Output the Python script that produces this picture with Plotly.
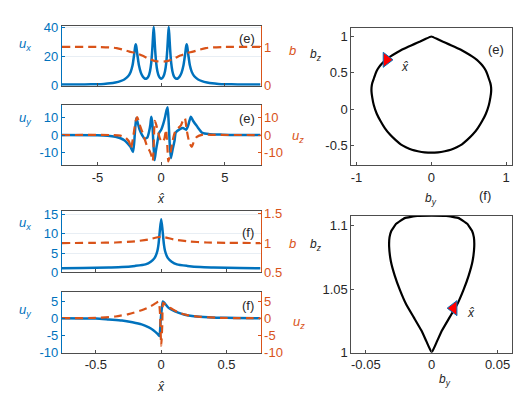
import plotly.graph_objects as go

# ---------------- data ----------------
# panel (e) top: u_x and b versus x-hat
xe_ux = [-7.8,-6,-5,-4.5,-4,-3.6,-3.2,-2.9,-2.6,-2.4,-2.25,-2.13,-2.05,-2.0,-1.95,-1.87,-1.75,-1.6,-1.45,-1.3,
         -1.15,-1.0,-0.88,-0.78,-0.7,-0.64,-0.59,-0.54,-0.48,-0.4,-0.3,-0.18,-0.08,0,
         0.08,0.18,0.3,0.4,0.48,0.54,0.59,0.64,0.7,0.78,0.88,1.0,1.15,1.3,1.45,1.6,1.75,1.87,1.95,2.0,
         2.05,2.13,2.25,2.4,2.6,2.9,3.2,3.6,4,4.5,5,6,7.8]
ux_e = [1.0,1.0,1.1,1.3,1.7,2.3,3.2,4.3,6.5,9.5,14,21,26.5,28.3,26.5,21,14,9,6.3,5,
        5,6.5,10,16,25,34,40,34,25,16,10,6.5,5.2,4.8,
        5.2,6.5,10,16,25,34,40,34,25,16,10,6.5,5,5,6.3,9,14,21,26.5,28.3,
        26.5,21,14,9.5,6.5,4.3,3.2,2.3,1.7,1.3,1.1,1.0,1.0]
xe_b = [-7.8,-5,-4,-3.5,-3,-2.5,-2,-1.5,-1,-0.6,-0.3,0,0.3,0.6,1,1.5,2,2.5,3,3.5,4,5,7.8]
b_e = [1.0,1.0,0.99,0.97,0.93,0.88,0.84,0.78,0.7,0.65,0.63,0.62,0.63,0.65,0.7,0.78,0.84,0.88,0.93,0.97,0.99,1.0,1.0]

# panel (e) second: u_y and u_z
xe_uy = [-7.8,-5,-4.2,-3.6,-3.2,-2.9,-2.64,-2.4,-2.22,-2.12,-2.04,-1.96,-1.85,-1.7,-1.5,-1.31,-1.1,-0.95,-0.85,-0.78,
         -0.7,-0.62,-0.52,-0.42,-0.3,-0.16,0,0.15,0.3,0.42,0.5,0.58,0.66,0.76,0.9,1.05,1.15,1.5,1.7,1.95,
         2.1,2.22,2.33,2.5,2.8,3.24,3.8,4.8,6,7.8]
uy_e = [0,-0.1,-0.4,-1,-1.8,-2.9,-4.7,-6.8,-9.5,-4,4,9.4,7,3,0,-2,-1.5,2,6,10.3,
        7,-4,-14,-9,-4,1.2,3,6,10,14,15.5,8,-4,-13,-8,-3,1.5,3.5,4,3,
        5,8,10.3,8,5,1.2,0.5,0.2,0,0]
xe_uz = [-7.8,-4,-3.2,-2.8,-2.5,-2.38,-2.2,-2.0,-1.88,-1.7,-1.4,-1.1,-0.9,-0.75,-0.66,-0.58,-0.5,-0.4,-0.25,-0.1,
         0.1,0.25,0.38,0.48,0.56,0.66,0.78,0.9,1.1,1.35,1.55,1.7,1.86,2.0,2.2,2.4,2.55,2.8,3.3,4,7.8]
uz_e = [0,0,-0.3,-1.5,-4,-7.6,-1,8,10,6,0,-6.5,-9,-12,-14.5,-3,8,6,2,-2,
        -4,-2,3,-6,-14.8,-12,-8,-3,2,4,5.4,8,9.4,3,-4,-6.7,-4,-1,0.3,0.1,0]

# panel (f) top: u_x and b
xf_ux = [-0.76,-0.6,-0.4,-0.3,-0.2,-0.12,-0.08,-0.05,-0.03,-0.02,-0.01,0,
         0.01,0.02,0.03,0.05,0.08,0.12,0.2,0.3,0.4,0.6,0.76]
ux_f = [1.1,1.15,1.3,1.4,1.7,2.1,2.8,3.8,5.5,7.5,11,13.8,
        11,7.5,5.5,3.8,2.8,2.1,1.7,1.4,1.3,1.15,1.1]
xf_b = [-0.76,-0.5,-0.35,-0.2,-0.1,0,0.1,0.2,0.35,0.5,0.76]
b_f = [1.0,1.005,1.01,1.03,1.06,1.108,1.06,1.03,1.01,1.005,1.0]

# panel (f) second: u_y and u_z
xf_uy = [-0.76,-0.5,-0.4,-0.3,-0.22,-0.15,-0.095,-0.06,-0.03,-0.014,-0.005,0.005,0.013,0.03,0.057,0.083,
         0.13,0.18,0.25,0.36,0.5,0.76]
uy_f = [0,-0.1,-0.4,-0.7,-1.2,-1.8,-2.7,-3.5,-4.5,-5.2,-1,3,4.9,4.2,3.0,2.4,
        1.6,1.0,0.6,0.3,0.1,0]
xf_uz = [-0.76,-0.5,-0.35,-0.25,-0.15,-0.08,-0.04,-0.02,-0.01,0,0.008,0.015,0.03,0.06,0.083,0.13,0.2,0.3,0.45,0.76]
uz_f = [0,0.1,0.5,1.2,2.3,3.5,4.4,4.8,2,-8,-2,4.5,4,3.2,2.7,1.7,0.9,0.4,0.1,0]

# hodographs (b_y, b_z)
by_e = [0,-0.08,-0.15,-0.23,-0.31,-0.39,-0.46,-0.54,-0.61,-0.66,-0.70,-0.73,-0.75,-0.77,-0.79,-0.80,-0.80,-0.79,-0.77,
        -0.73,-0.68,-0.62,-0.55,-0.48,-0.41,-0.34,-0.26,-0.18,-0.09,0,
        0.09,0.18,0.26,0.34,0.41,0.48,0.55,0.62,0.68,0.73,0.77,0.79,0.80,0.80,0.79,0.77,0.75,0.73,0.70,0.66,0.61,
        0.54,0.46,0.39,0.31,0.23,0.15,0.08,0]
bz_e = [1.0,0.965,0.93,0.895,0.86,0.82,0.78,0.73,0.68,0.63,0.58,0.53,0.48,0.42,0.36,0.30,0.24,0.16,0.06,
        -0.06,-0.16,-0.26,-0.35,-0.42,-0.48,-0.52,-0.555,-0.575,-0.59,-0.595,
        -0.59,-0.575,-0.555,-0.52,-0.48,-0.42,-0.35,-0.26,-0.16,-0.06,0.06,0.16,0.24,0.30,0.36,0.42,0.48,0.53,0.58,0.63,0.68,
        0.73,0.78,0.82,0.86,0.895,0.93,0.965,1.0]
marker_e = [-0.6, 0.68]
by_f = [0,0.004,0.0078,0.0135,0.0192,0.024,0.028,0.031,0.0323,0.032,0.0306,0.027,0.0205,0.011,0,
        -0.011,-0.0205,-0.027,-0.0306,-0.032,-0.0323,-0.031,-0.028,-0.024,-0.0192,-0.0135,-0.0078,-0.004,0]
bz_f = [1.0,1.0088,1.0173,1.0275,1.0376,1.049,1.0605,1.072,1.0834,1.091,1.096,1.1015,1.106,1.1078,1.108,
        1.1078,1.106,1.1015,1.096,1.091,1.0834,1.072,1.0605,1.049,1.0376,1.0275,1.0173,1.0088,1.0]
marker_f = [0.0167, 1.035]

# ---------------- styling ----------------
W, H = 525, 394
BLUE = "#0072BD"
ORANGE = "#D95319"
GRAY = "#4d4d4d"
TXT = "#262626"
FONT = "Liberation Sans, Arial, sans-serif"
FS = 13
DASH = "8px,5px"

def px_x(p):
    return p / W

def px_y(p):
    return 1 - p / H

def dom_x(a, b):
    return [px_x(a), px_x(b)]

def dom_y(top, bottom):
    return [px_y(bottom), px_y(top)]

fig = go.Figure()

def line(x, y, xa, ya, color, dash=None, width=2.5, shape="spline", smoothing=0.6):
    fig.add_trace(go.Scatter(x=x, y=y, xaxis=xa, yaxis=ya, mode="lines",
                             line=dict(color=color, width=width, dash=dash, shape=shape, smoothing=smoothing),
                             hoverinfo="skip", showlegend=False))

# left panels
line(xe_ux, ux_e, "x", "y", BLUE)
line(xe_b, b_e, "x", "y2", ORANGE, DASH, width=2.2)
line(xe_uy, uy_e, "x2", "y3", BLUE)
line(xe_uz, uz_e, "x2", "y4", ORANGE, DASH, width=2.2)
line(xf_ux, ux_f, "x3", "y5", BLUE)
line(xf_b, b_f, "x3", "y6", ORANGE, DASH, width=2.2)
line(xf_uy, uy_f, "x4", "y7", BLUE)
line(xf_uz, uz_f, "x4", "y8", ORANGE, DASH, width=2.2)
# hodographs
line(by_e, bz_e, "x5", "y9", "black", width=2.2, smoothing=0.3)
line(by_f, bz_f, "x6", "y10", "black", width=2.2, smoothing=0.3)
fig.add_trace(go.Scatter(x=[marker_e[0]], y=[marker_e[1]], xaxis="x5", yaxis="y9", mode="markers",
                         marker=dict(symbol="triangle-right", size=13, color="red",
                                     line=dict(color=BLUE, width=1)),
                         hoverinfo="skip", showlegend=False))
fig.add_trace(go.Scatter(x=[marker_f[0]], y=[marker_f[1]], xaxis="x6", yaxis="y10", mode="markers",
                         marker=dict(symbol="triangle-left", size=13, color="red",
                                     line=dict(color=BLUE, width=1)),
                         hoverinfo="skip", showlegend=False))

def fmt(v):
    return "%g" % v

def xax(domain, rng, anchor, tickvals=None, labels=True):
    d = dict(domain=domain, range=rng, anchor=anchor, showline=True, mirror=True, linecolor=GRAY,
             linewidth=1, ticks="inside", ticklen=3, tickcolor=GRAY, showgrid=False, zeroline=False,
             showticklabels=labels, tickfont=dict(family=FONT, size=FS, color=TXT))
    if tickvals is not None:
        d["tickvals"] = tickvals
        d["ticktext"] = [fmt(v) for v in tickvals]
    return d

def yax(domain, rng, anchor, tickvals, color, grid=False, side="left", overlay=None, mirror=False):
    d = dict(range=rng, anchor=anchor, showline=True, linecolor=color, linewidth=1,
             ticks="inside", ticklen=3, tickcolor=color, zeroline=False,
             showgrid=grid, gridcolor="#e8eef4", gridwidth=1,
             tickvals=tickvals, ticktext=[fmt(v) for v in tickvals], side=side,
             tickfont=dict(family=FONT, size=FS, color=color if color != GRAY else TXT))
    if mirror:
        d["mirror"] = True
    if overlay:
        d["overlaying"] = overlay
    else:
        d["domain"] = domain
    return d

LX = dom_x(53, 252)
RX = dom_x(343, 504)
P1 = dom_y(12, 74.5)
P2 = dom_y(94, 157)
P3 = dom_y(204, 268)
P4 = dom_y(288, 351)
R1 = dom_y(15, 157)
R2 = dom_y(209, 351)

layout = dict(
    width=W, height=H, margin=dict(l=0, r=0, t=0, b=0),
    paper_bgcolor="white", plot_bgcolor="white",
    font=dict(family=FONT, size=FS, color=TXT),
    xaxis=xax(LX, [-7.8, 7.8], "y", [-5, 0, 5], labels=False),
    yaxis=yax(P1, [0, 41], "x", [0, 20, 40], BLUE, grid=True),
    yaxis2=yax(None, [0, 1.55], "x", [0, 1], ORANGE, side="right", overlay="y"),
    xaxis2=xax(LX, [-7.8, 7.8], "y3", [-5, 0, 5]),
    yaxis3=yax(P2, [-17, 17], "x2", [-10, 0, 10], BLUE),
    yaxis4=yax(None, [-17, 17], "x2", [-10, 0, 10], ORANGE, side="right", overlay="y3"),
    xaxis3=xax(LX, [-0.76, 0.76], "y5", [-0.5, 0, 0.5], labels=False),
    yaxis5=yax(P3, [0, 16], "x3", [0, 5, 10, 15], BLUE, grid=True),
    yaxis6=yax(None, [0.5, 1.55], "x3", [0.5, 1, 1.5], ORANGE, side="right", overlay="y5"),
    xaxis4=xax(LX, [-0.76, 0.76], "y7", [-0.5, 0, 0.5]),
    yaxis7=yax(P4, [-10, 7.7], "x4", [-10, -5, 0, 5], BLUE),
    yaxis8=yax(None, [-10, 7.7], "x4", [-10, -5, 0, 5], ORANGE, side="right", overlay="y7"),
    xaxis5=xax(RX, [-1.07, 1.08], "y9", [-1, 0, 1]),
    yaxis9=yax(R1, [-0.77, 1.11], "x5", [-0.5, 0, 0.5, 1], GRAY, mirror=True),
    xaxis6=xax(RX, [-0.061, 0.061], "y10", [-0.05, 0, 0.05]),
    yaxis10=yax(R2, [1.0, 1.108], "x6", [1, 1.05, 1.1], GRAY, mirror=True),
)
fig.update_layout(**layout)

def ann(text, x, y, color=TXT, size=FS):
    fig.add_annotation(text=text, x=px_x(x), y=px_y(y), xref="paper", yref="paper",
                       showarrow=False, xanchor="center", yanchor="middle",
                       font=dict(family=FONT, size=size, color=color))

# panel tags
ann("(e)", 238, 25)
ann("(e)", 238, 108)
ann("(f)", 239, 227)
ann("(f)", 239, 302)
ann("(e)", 488, 37)
ann("(f)", 477, 188)

# axis labels
ann("<i>u<sub>x</sub></i>", 16, 32, BLUE)
ann("<i>b</i>", 284, 38, ORANGE)
ann("<i>u<sub>y</sub></i>", 16, 108, BLUE)
ann("<i>u<sub>z</sub></i>", 290, 127, ORANGE)
ann("<i>u<sub>x</sub></i>", 16, 217, BLUE)
ann("<i>b</i>", 284, 238, ORANGE)
ann("<i>u<sub>y</sub></i>", 16, 307, BLUE)
ann("<i>u<sub>z</sub></i>", 291, 320, ORANGE)
ann("<i>x\u0302</i>", 152, 192, size=12)
ann("<i>x\u0302</i>", 152, 387, size=12)

ann("<i>b<sub>z</sub></i>", 308, 43, size=12)
ann("<i>b<sub>y</sub></i>", 423, 192, size=12)
ann("<i>b<sub>z</sub></i>", 308, 240, size=12)
ann("<i>b<sub>y</sub></i>", 437, 380, size=12)
ann("<i>x\u0302</i>", 397, 55, size=12)
ann("<i>x\u0302</i>", 463, 310, size=12)

fig.write_html("out.html")
